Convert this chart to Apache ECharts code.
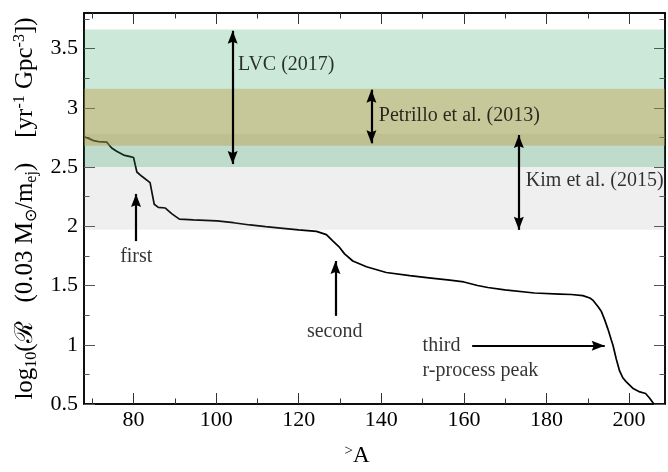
<!DOCTYPE html>
<html>
<head>
<meta charset="utf-8">
<script src="https://cdn.jsdelivr.net/npm/echarts@6/dist/echarts.min.js"></script>
<style>
html,body{margin:0;padding:0;background:#fff;}
#chart{width:668px;height:472px;}
</style>
</head>
<body>
<div id="chart"></div>
<script>
// ---- data ----
const massNumber = [68, 69.1, 70.3, 71.5, 73.5, 74.7, 75.9, 77.6, 79.2, 80.0, 80.8, 82.0, 84.0, 85.0, 86.0, 87.7, 89.3, 91.1, 94.5, 100.2, 104.2, 108.2, 112, 116.2, 120, 124.3, 126.7, 128.3, 129.9, 131.1, 133.1, 136.4, 141.2, 146.9, 151.5, 156.6, 160, 163.3, 165.8, 169.9, 177.1, 183.2, 186, 188.8, 190.5, 191.3, 192.5, 193.3, 194.1, 194.9, 195.7, 196.1, 196.9, 197.7, 198.5, 199.4, 201.0, 202.6, 204.0, 205.0, 206.0];
const logRate = [2.755, 2.742, 2.723, 2.715, 2.710, 2.661, 2.633, 2.601, 2.588, 2.580, 2.458, 2.422, 2.368, 2.186, 2.160, 2.154, 2.105, 2.060, 2.054, 2.046, 2.030, 2.011, 1.997, 1.983, 1.970, 1.957, 1.930, 1.875, 1.821, 1.767, 1.707, 1.658, 1.610, 1.583, 1.565, 1.545, 1.530, 1.500, 1.483, 1.463, 1.437, 1.428, 1.424, 1.415, 1.395, 1.374, 1.320, 1.280, 1.210, 1.130, 1.040, 0.996, 0.880, 0.779, 0.720, 0.684, 0.630, 0.602, 0.589, 0.549, 0.500];

const bandNames = ['Kim et al. (2015)', 'LVC (2017)', 'Petrillo et al. (2013)'];
const bandLow = [1.97, 2.50, 2.68];
const bandHigh = [2.78, 3.66, 3.16];

// arrows
const arrowX0 = [104, 137.6, 173.3, 80.6, 128.9, 162.0];
const arrowY0 = [3.65, 3.153, 2.77, 1.875, 1.244, 0.992];
const arrowX1 = [104, 137.6, 173.3, 80.6, 128.9, 194.1];
const arrowY1 = [2.525, 2.70, 1.97, 2.273, 1.707, 0.992];
const arrowBoth = [true, true, true, false, false, false];

const noteText = ['LVC (2017)', 'Petrillo et al. (2013)', 'Kim et al. (2015)', 'first', 'second', 'third', 'r-process peak'];
const noteX = [105.3, 139.4, 175.0, 80.65, 128.7, 150.0, 150.0];
const noteY = [3.36, 2.93, 2.38, 1.74, 1.11, 0.992, 0.779];
const noteCentered = [false, false, false, true, true, false, false];

const xMajorTicks = [80, 100, 120, 140, 160, 180, 200];
const xMinorTicks = [70, 90, 110, 130, 150, 170, 190];
const yMajorTicks = [0.5, 1, 1.5, 2, 2.5, 3, 3.5];
const yMinorTicks = [0.75, 1.25, 1.75, 2.25, 2.75, 3.25, 3.75];

// ---- chart ----
const FONT = 'Liberation Serif';
const XMIN = 68, XMAX = 208.7, YMIN = 0.5, YMAX = 3.8;
const bandColors = ['rgba(128,128,128,0.13)', 'rgba(0,140,60,0.2)', 'rgba(192,152,61,0.4)'];

function xAx(pos, ticks, len, labels, extra) {
  return Object.assign({
    type: 'value', gridIndex: 0, position: pos, min: XMIN, max: XMAX,
    axisLine: {show: true, onZero: false, lineStyle: {color: '#000', width: 1.5}},
    axisTick: {show: true, inside: true, length: len, customValues: ticks, lineStyle: {color: '#333', width: 1}},
    axisLabel: labels ? {show: true, customValues: ticks, fontFamily: FONT, fontSize: 22, color: '#000', margin: 5} : {show: false},
    splitLine: {show: false}
  }, extra || {});
}
function yAx(pos, ticks, len, labels, extra) {
  return Object.assign({
    type: 'value', gridIndex: 0, position: pos, min: YMIN, max: YMAX,
    axisLine: {show: true, onZero: false, lineStyle: {color: '#000', width: 1.5}},
    axisTick: {show: true, inside: true, length: len, customValues: ticks, lineStyle: {color: '#555', width: 1}},
    axisLabel: labels ? {show: true, customValues: ticks, fontFamily: FONT, fontSize: 22, color: '#000', margin: 6} : {show: false},
    splitLine: {show: false}
  }, extra || {});
}

const curve = massNumber.map((x, i) => [x, logRate[i]]);

const markAreaData = bandNames.map((n, i) => [
  {name: n, yAxis: bandLow[i], xAxis: XMIN, itemStyle: {color: bandColors[i]}},
  {yAxis: bandHigh[i], xAxis: XMAX}
]);

const HEAD_PATH = 'path://M5,0 L10,13 L5,11 L0,13 Z';
const HEAD = [10, 13];
const markLineData = arrowX0.map((x, i) => [
  {coord: [x, arrowY0[i]], symbol: arrowBoth[i] ? HEAD_PATH : 'none', symbolSize: HEAD, symbolOffset: [0, HEAD[1] / 2]},
  {coord: [arrowX1[i], arrowY1[i]], symbol: HEAD_PATH, symbolSize: HEAD, symbolOffset: [0, HEAD[1] / 2]}
]);

const noteData = noteText.map((t, i) => ({
  value: [noteX[i], noteY[i]],
  name: t,
  label: {position: noteCentered[i] ? 'inside' : 'right', distance: 0}
}));

const option = {
  animation: false,
  backgroundColor: '#fff',
  grid: {left: 84, right: 3, top: 13, bottom: 53, containLabel: false},
  xAxis: [
    xAx('bottom', xMajorTicks, 11, true, {
      name: '{sup|>}A',
      nameLocation: 'middle',
      nameGap: 40,
      nameTextStyle: {fontFamily: FONT, fontSize: 23, color: '#000', padding: [0, 35, 0, 0],
        rich: {sup: {fontFamily: FONT, fontSize: 15, verticalAlign: 'top', lineHeight: 14, color: '#000'}}}
    }),
    xAx('bottom', xMinorTicks, 5.5, false),
    xAx('top', xMajorTicks, 11, false),
    xAx('top', xMinorTicks, 5.5, false)
  ],
  yAxis: [
    yAx('left', yMajorTicks, 11, true, {
      name: 'log{sub|10}(ℛ   (0.03 M{sub|⊙}/m{sub|ej})    [yr{sup|-1} Gpc{sup|-3}])',
      nameLocation: 'middle',
      nameGap: 42,
      nameRotate: 90,
      nameTextStyle: {fontFamily: FONT, fontSize: 25, color: '#000', lineHeight: 28,
        rich: {
          sub: {fontFamily: FONT, fontSize: 16, verticalAlign: 'bottom', lineHeight: 19, color: '#000'},
          sup: {fontFamily: FONT, fontSize: 16, verticalAlign: 'top', lineHeight: 17, color: '#000'}
        }}
    }),
    yAx('left', yMinorTicks, 5.5, false),
    yAx('right', yMajorTicks, 11, false),
    yAx('right', yMinorTicks, 5.5, false)
  ],
  series: [
    {
      type: 'line',
      xAxisIndex: 0, yAxisIndex: 0,
      data: curve,
      showSymbol: false,
      symbol: 'none',
      lineStyle: {color: '#000', width: 1.7},
      z: 2,
      markArea: {
        z: 3,
        silent: true,
        label: {show: false},
        data: markAreaData
      },
      markLine: {
        z: 5,
        silent: true,
        label: {show: false},
        lineStyle: {color: '#000', width: 2.2, type: 'solid'},
        data: markLineData
      }
    },
    {
      type: 'scatter',
      xAxisIndex: 0, yAxisIndex: 0,
      symbolSize: 0,
      z: 6,
      silent: true,
      data: noteData,
      label: {show: true, formatter: p => p.name, fontFamily: FONT, fontSize: 20, color: '#000'}
    }
  ]
};

const chart = echarts.init(document.getElementById('chart'), null, {renderer: 'canvas'});
chart.setOption(option);
</script>
</body>
</html>
